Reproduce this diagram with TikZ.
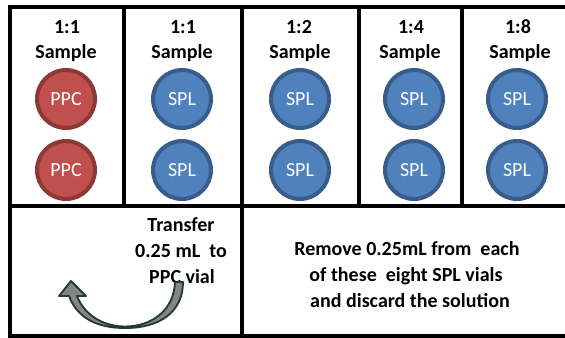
\documentclass[tikz,border=0pt]{standalone}
\usepackage{fontspec}
\setmainfont{Carlito}
\definecolor{ppcfill}{HTML}{C0504D}
\definecolor{ppcedge}{HTML}{8C3836}
\definecolor{splfill}{HTML}{4F81BD}
\definecolor{spledge}{HTML}{385D8A}
\definecolor{arrowedge}{HTML}{1F3D36}
\definecolor{arrowfill}{HTML}{858585}
\begin{document}
\begin{tikzpicture}[x=0.75pt,y=-0.75pt,
  frame/.style={line width=3pt, line cap=rect},
  vial/.style={circle, inner sep=0pt, minimum size=43.5pt, line width=3pt,
    text=white, font=\fontsize{15}{18}\selectfont},
  ppc/.style={vial, draw=ppcedge, fill=ppcfill},
  spl/.style={vial, draw=spledge, fill=splfill},
  head/.style={anchor=base, inner sep=0pt, font=\bfseries\fontsize{15}{18}\selectfont},
  note/.style={anchor=base, inner sep=0pt, font=\bfseries\fontsize{15}{18}\selectfont},
  curvearrow/.style={draw=arrowedge, fill=arrowfill, line width=1.4pt, line join=round}]
\useasboundingbox (0,0) rectangle (565,337);

% grid of the tray
\coordinate (tl) at (10,7);
\coordinate (tr) at (575,7);
\coordinate (bl) at (10,336);
\coordinate (br) at (575,336);
\coordinate (ml) at (10,206);
\coordinate (mr) at (575,206);
\draw[frame] (tr) -- (tl) -- (bl) -- (br);
\draw[frame] (ml) -- (mr);
\draw[frame] (124,7) -- (124,206);
\draw[frame] (242,7) -- (242,336);
\draw[frame] (359,7) -- (359,206);
\draw[frame] (462,7) -- (462,206);

% column headings
\node[head] (h1a) at (67,33) {1:1};
\node[head] (h1b) at (66,58) {Sample};
\node[head] (h2a) at (183,33) {1:1};
\node[head] (h2b) at (182,58) {Sample};
\node[head] (h3a) at (299,33) {1:2};
\node[head] (h3b) at (300,58) {Sample};
\node[head] (h4a) at (411,33) {1:4};
\node[head] (h4b) at (410,58) {Sample};
\node[head] (h5a) at (518,33) {1:8};
\node[head] (h5b) at (520,58) {Sample};

% vials
\node[ppc] (p1) at (66,99) {PPC};
\node[ppc] (p2) at (66,170) {PPC};
\node[spl] (s21) at (182,99) {SPL};
\node[spl] (s22) at (182,170) {SPL};
\node[spl] (s31) at (300,99) {SPL};
\node[spl] (s32) at (300,170) {SPL};
\node[spl] (s41) at (414,99) {SPL};
\node[spl] (s42) at (414,170) {SPL};
\node[spl] (s51) at (517,99) {SPL};
\node[spl] (s52) at (517,170) {SPL};

% transfer instruction
\node[note] (t1) at (181,231) {Transfer};
\node[note] (t2) at (181,257) {0.25 mL\ \ to};
\node[note] (t3) at (182,283) {PPC vial};

% curved transfer arrow, tapering towards its lowest point
\path[curvearrow] (69,296) .. controls (78,320) and (100,328) .. (125,328)
  .. controls (160,328) and (183,312) .. (183,282) -- (175,282)
  .. controls (174,310) and (152,326.5) .. (125,326.5)
  .. controls (102,326.5) and (84,314) .. (77,296)
  -- (86,296) -- (71,281) -- (59,296) -- cycle;

% discard instruction
\node[note] (r1) at (407,255) {Remove 0.25mL from\ \ each};
\node[note] (r2) at (406,281) {of these\ \ eight SPL vials};
\node[note] (r3) at (410,307) {and discard the solution};
\end{tikzpicture}
\end{document}
